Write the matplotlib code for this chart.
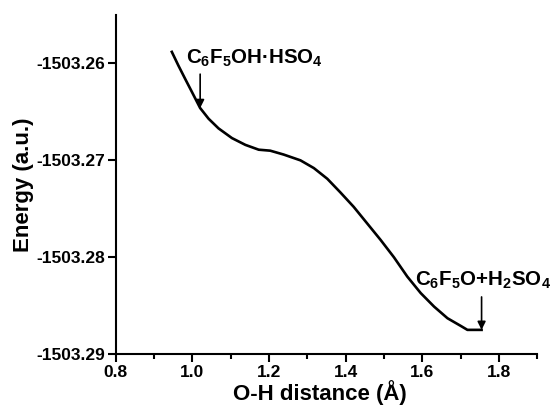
import numpy as np
import matplotlib
matplotlib.use("Agg")
import matplotlib.pyplot as plt
from matplotlib.ticker import MultipleLocator, FuncFormatter

plt.rcParams['font.family'] = ['Liberation Sans', 'DejaVu Sans']
plt.rcParams['font.weight'] = 'bold'
plt.rcParams['axes.unicode_minus'] = False
plt.rcParams['mathtext.fontset'] = 'custom'
plt.rcParams['mathtext.rm'] = 'Liberation Sans:bold'
plt.rcParams['mathtext.bf'] = 'Liberation Sans:bold'

# O-H distance (A) and energy (a.u.)
oh_distance = [0.946, 0.963, 0.981, 0.998, 1.020, 1.042, 1.068, 1.103, 1.138,
               1.173, 1.203, 1.238, 1.282, 1.317, 1.352, 1.386, 1.421, 1.456,
               1.491, 1.526, 1.561, 1.596, 1.631, 1.666, 1.701, 1.718, 1.755]
energy = [-1503.2588, -1503.2602, -1503.2616, -1503.2629, -1503.2646,
          -1503.2657, -1503.2667, -1503.2677, -1503.2684, -1503.2689,
          -1503.2690, -1503.2694, -1503.2700, -1503.2708, -1503.2719,
          -1503.2733, -1503.2748, -1503.2765, -1503.2782, -1503.2800,
          -1503.2820, -1503.2837, -1503.2851, -1503.2863, -1503.2871,
          -1503.2875, -1503.2875]

# annotations: label, point the arrow goes to
ann_labels = [r'$\mathbf{C_6F_5OH·HSO_4}$', r'$\mathbf{C_6F_5O{+}H_2SO_4}$']
ann_x = [1.020, 1.755]
ann_y = [-1503.2646, -1503.2875]

fig = plt.figure(figsize=(5.52, 4.07), dpi=100)
ax = fig.add_axes([0.210, 0.130, 0.763, 0.833])

ax.plot(oh_distance, energy, color='black', lw=1.9, solid_joinstyle='round')

ax.set_xlim(0.8, 1.9)
ax.set_ylim(-1503.29, -1503.255)
ax.xaxis.set_major_locator(MultipleLocator(0.2))
ax.xaxis.set_minor_locator(MultipleLocator(0.1))
ax.set_yticks([-1503.29, -1503.28, -1503.27, -1503.26])
ax.yaxis.set_major_formatter(FuncFormatter(lambda v, p: '%.2f' % v))
ax.xaxis.set_major_formatter(FuncFormatter(lambda v, p: '%.1f' % v))

for s in ['top', 'right']:
    ax.spines[s].set_visible(False)
for s in ['left', 'bottom']:
    ax.spines[s].set_linewidth(1.5)
ax.tick_params(which='major', length=6, width=1.5, labelsize=12.5, pad=1.5)
ax.tick_params(which='minor', length=3.5, width=1.5)

ax.set_xlabel('O-H distance (Å)', fontsize=16, fontweight='bold', labelpad=1)
ax.xaxis.set_label_coords(0.485, -0.075)
ax.set_ylabel('Energy (a.u.)', fontsize=16, fontweight='bold', labelpad=2)

# label 1: text above, arrow down to curve
ax.annotate('', xy=(ann_x[0], ann_y[0]), xytext=(ann_x[0], -1503.2611),
            arrowprops=dict(arrowstyle='-|>', color='black', lw=1.2,
                            mutation_scale=12, shrinkA=0, shrinkB=0))
ax.text(0.984, -1503.2595, ann_labels[0], fontsize=14.8, ha='left', va='center')

# label 2
ax.annotate('', xy=(ann_x[1], ann_y[1]), xytext=(ann_x[1], -1503.2841),
            arrowprops=dict(arrowstyle='-|>', color='black', lw=1.2,
                            mutation_scale=12, shrinkA=0, shrinkB=0))
ax.text(1.581, -1503.2824, ann_labels[1], fontsize=14.8, ha='left', va='center',
        clip_on=False)

fig.savefig('out.png', dpi=100)
